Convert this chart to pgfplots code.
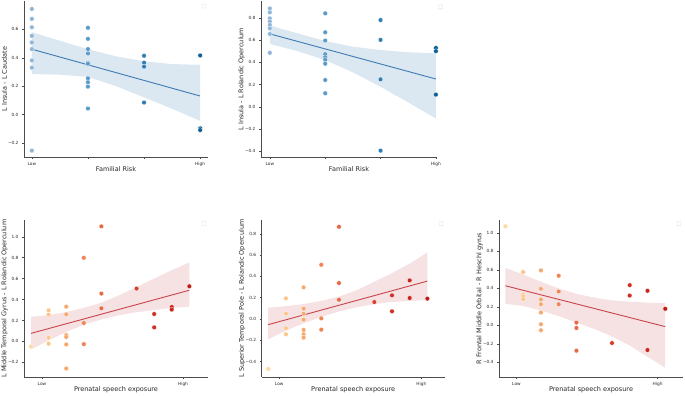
\documentclass[border=0pt]{standalone}
\usepackage{pgfplots}
\pgfplotsset{compat=1.18}
\usepackage{fontspec}
\setmainfont{DejaVu Sans}
\definecolor{tb0}{HTML}{8FB6D8}
\definecolor{tb1}{HTML}{5A9BC8}
\definecolor{tb2}{HTML}{2E7EB6}
\definecolor{tb3}{HTML}{0F5F95}
\definecolor{tline}{HTML}{3F7BB3}
\definecolor{tband}{HTML}{DBE7F1}
\definecolor{o0}{HTML}{FCD9A6}
\definecolor{o1}{HTML}{FBC68B}
\definecolor{o2}{HTML}{F5A96F}
\definecolor{o3}{HTML}{EE8556}
\definecolor{o4}{HTML}{E66A46}
\definecolor{o6}{HTML}{D8402E}
\definecolor{o7}{HTML}{CF3124}
\definecolor{o8}{HTML}{C8251D}
\definecolor{o9}{HTML}{BE1C17}
\definecolor{rline}{HTML}{C8454A}
\definecolor{rband}{HTML}{F6E1E3}
\newcommand{\ticksize}{\fontsize{4.3}{5}\selectfont}
\newcommand{\labsize}{\fontsize{6.5}{7.5}\selectfont}
\pgfplotsset{
  sb/.style={scale only axis, clip=false,
    axis x line*=bottom, axis y line*=left,
    axis line style={-, draw=black!70, line width=0.5pt},
    every tick/.style={draw=black!70, line width=0.4pt},
    tick align=outside, major tick length=2pt,
    tick label style={font=\ticksize, text=black!85},
    label style={font=\labsize, text=black!85},
    ylabel style={at={([xshift=-19.5pt]rel axis cs:0,0.5)}, anchor=center, rotate=0},
    xlabel style={at={([yshift=-12.5pt]rel axis cs:0.5,0)}, anchor=center},
  },
  pt/.style={only marks, mark=*, mark size=2.35pt, mark options={draw=white, line width=0.25pt, fill=#1}, color=#1},
}
\newcommand{\legbox}[2]{\draw[black!15, line width=0.4pt, rounded corners=0.4pt, fill=white] ([xshift=-2pt,yshift=-2pt]rel axis cs:#1,#2) rectangle ([xshift=2pt,yshift=2pt]rel axis cs:#1,#2);}
\begin{document}
\begin{tikzpicture}
\useasboundingbox (0pt,0pt) rectangle (685pt,396pt);

% ---------------- Plot 1
\begin{axis}[sb, at={(24pt,239pt)}, anchor=south west, width=184pt, height=156pt,
  xmin=-0.14, xmax=3.14, ymin=-0.30, ymax=0.80,
  xtick={0,1,2,3}, xticklabels={Low,,,High},
  ytick={-0.2,0,0.2,0.4,0.6}, yticklabels={−0.2,0.0,0.2,0.4,0.6},
  xlabel={Familial Risk}, ylabel={L Insula - L Caudate}]
\addplot[fill=tband, draw=none] coordinates {(0,0.58)(0.5,0.52)(1,0.46)(1.5,0.41)(2,0.375)(2.5,0.355)(3,0.35)(3,-0.045)(2.5,0.04)(2,0.12)(1.5,0.20)(1,0.265)(0.5,0.28)(0,0.285)};
\addplot[tline, line width=0.9pt] coordinates {(0,0.46)(3,0.13)};
\addplot[pt=tb0] coordinates {(0,0.744)(0,0.674)(0,0.615)(0,0.554)(0,0.508)(0,0.461)(0,0.381)(0,0.330)(0,-0.255)};
\addplot[pt=tb1] coordinates {(1,0.611)(1,0.533)(1,0.461)(1,0.430)(1,0.365)(1,0.358)(1,0.255)(1,0.227)(1,0.196)(1,0.042)};
\addplot[pt=tb2] coordinates {(2,0.414)(2,0.365)(2,0.337)(2,0.084)};
\addplot[pt=tb3] coordinates {(3,0.416)(3,-0.098)(3,-0.110)};
\legbox{0.978}{0.968}
\end{axis}

% ---------------- Plot 2
\begin{axis}[sb, at={(261pt,239pt)}, anchor=south west, width=176pt, height=156pt,
  xmin=-0.16, xmax=3.02, ymin=-0.45, ymax=0.95,
  xtick={0,1,2,3}, xticklabels={Low,,,High},
  ytick={-0.4,-0.2,0,0.2,0.4,0.6,0.8}, yticklabels={−0.4,−0.2,0.0,0.2,0.4,0.6,0.8},
  xlabel={Familial Risk}, ylabel={L Insula - L Rolandic Operculum}]
\addplot[fill=tband, draw=none] coordinates {(0,0.73)(0.5,0.66)(1,0.59)(1.5,0.54)(2,0.51)(2.5,0.49)(3,0.48)(3,-0.105)(2.5,0.04)(2,0.18)(1.5,0.31)(1,0.42)(0.5,0.50)(0,0.565)};
\addplot[tline, line width=0.9pt] coordinates {(0,0.655)(3,0.25)};
\addplot[pt=tb0] coordinates {(0,0.883)(0,0.848)(0,0.794)(0,0.767)(0,0.735)(0,0.705)(0,0.654)(0,0.485)};
\addplot[pt=tb1] coordinates {(1,0.839)(1,0.669)(1,0.595)(1,0.473)(1,0.446)(1,0.422)(1,0.387)(1,0.241)(1,0.122)};
\addplot[pt=tb2] coordinates {(2,0.779)(2,0.601)(2,0.247)(2,-0.393)};
\addplot[pt=tb3] coordinates {(3,0.529)(3,0.500)(3,0.110)};
\legbox{1.02}{0.962}
\end{axis}

% ---------------- Plot 3
\begin{axis}[sb, at={(24pt,19pt)}, anchor=south west, width=184pt, height=157pt,
  xmin=-0.4, xmax=10.06, ymin=-0.34, ymax=1.16,
  xtick={0.62,8.64}, xticklabels={Low,High},
  ytick={-0.2,0,0.2,0.4,0.6,0.8,1.0}, yticklabels={−0.2,0.0,0.2,0.4,0.6,0.8,1.0},
  xlabel={Prenatal speech exposure}, ylabel={L Middle Temporal Gyrus - L Rolandic Operculum}]
\addplot[fill=rband, draw=none] coordinates {(0,0.236)(1,0.25)(2,0.28)(3,0.32)(4,0.37)(5,0.44)(6,0.52)(7,0.60)(8,0.68)(9,0.754)(9,0.332)(8,0.32)(7,0.30)(6,0.28)(5,0.25)(4,0.21)(3,0.16)(2,0.09)(1,0.01)(0,-0.077)};
\addplot[rline, line width=0.9pt] coordinates {(0,0.077)(9,0.489)};
\addplot[pt=o0] coordinates {(0,-0.048)};
\addplot[pt=o1] coordinates {(1,0.297)(1,0.256)(1,0.035)(1,-0.022)};
\addplot[pt=o2] coordinates {(2,0.332)(2,0.259)(2,0.061)(2,0.042)(2,-0.029)(2,-0.259)};
\addplot[pt=o3] coordinates {(3,0.799)(3,0.176)(3,-0.026)};
\addplot[pt=o4] coordinates {(4,1.099)(4,0.457)(4,0.316)};
\addplot[pt=o6] coordinates {(6,0.505)};
\addplot[pt=o7] coordinates {(7,0.262)(7,0.134)};
\addplot[pt=o8] coordinates {(8,0.329)(8,0.304)};
\addplot[pt=o9] coordinates {(9,0.527)};
\legbox{0.978}{0.978}
\end{axis}

% ---------------- Plot 4
\begin{axis}[sb, at={(261.7pt,19pt)}, anchor=south west, width=183pt, height=157pt,
  xmin=-0.37, xmax=9.98, ymin=-0.545, ymax=0.93,
  xtick={0.62,8.66}, xticklabels={Low,High},
  ytick={-0.4,-0.2,0,0.2,0.4,0.6,0.8}, yticklabels={−0.4,−0.2,0.0,0.2,0.4,0.6,0.8},
  xlabel={Prenatal speech exposure}, ylabel={L Superior Temporal Pole - L Rolandic Operculum}]
\addplot[fill=rband, draw=none] coordinates {(0,0.106)(1,0.12)(2,0.14)(3,0.17)(4,0.21)(5,0.27)(6,0.35)(7,0.43)(8,0.52)(9,0.625)(9,0.178)(8,0.17)(7,0.16)(6,0.14)(5,0.11)(4,0.07)(3,0.02)(2,-0.04)(1,-0.11)(0,-0.19)};
\addplot[rline, line width=0.9pt] coordinates {(0,-0.053)(9,0.356)};
\addplot[pt=o0] coordinates {(0,-0.469)};
\addplot[pt=o1] coordinates {(1,0.194)(1,0.05)(1,-0.0875)(1,-0.144)};
\addplot[pt=o2] coordinates {(2,0.297)(2,0.097)(2,0.05)(2,-0.006)(2,-0.103)(2,-0.144)(2,-0.175)};
\addplot[pt=o3] coordinates {(3,0.509)(3,0.006)(3,-0.1)};
\addplot[pt=o4] coordinates {(4,0.866)(4,0.3375)(4,0.181)};
\addplot[pt=o6] coordinates {(6,0.159)};
\addplot[pt=o7] coordinates {(7,0.222)(7,0.072)};
\addplot[pt=o8] coordinates {(8,0.3625)(8,0.197)};
\addplot[pt=o9] coordinates {(9,0.191)};
\legbox{0.98}{0.975}
\end{axis}

% ---------------- Plot 5
\begin{axis}[sb, at={(499pt,19pt)}, anchor=south west, width=184pt, height=157pt,
  xmin=-0.36, xmax=10.0, ymin=-0.56, ymax=1.14,
  xtick={0.62,8.57}, xticklabels={Low,High},
  ytick={-0.4,-0.2,0,0.2,0.4,0.6,0.8,1.0}, yticklabels={−0.4,−0.2,0.0,0.2,0.4,0.6,0.8,1.0},
  xlabel={Prenatal speech exposure}, ylabel={R Frontal Middle Orbital - R Heschl gyrus}]
\addplot[fill=rband, draw=none] coordinates {(0,0.62)(1,0.55)(2,0.47)(3,0.40)(4,0.34)(5,0.30)(6,0.27)(7,0.255)(8,0.245)(9,0.239)(9,-0.46)(8,-0.34)(7,-0.22)(6,-0.12)(5,-0.04)(4,0.03)(3,0.10)(2,0.16)(1,0.21)(0,0.232)};
\addplot[rline, line width=0.9pt] coordinates {(0,0.428)(9,-0.0145)};
\addplot[pt=o0] coordinates {(0,1.072)};
\addplot[pt=o1] coordinates {(1,0.576)(1,0.333)(1,0.312)(1,0.283)};
\addplot[pt=o2] coordinates {(2,0.594)(2,0.395)(2,0.279)(2,0.228)(2,0.138)(2,0.011)(2,-0.054)};
\addplot[pt=o3] coordinates {(3,0.536)(3,0.366)(3,0.228)};
\addplot[pt=o4] coordinates {(4,0.029)(4,-0.029)(4,-0.275)};
\addplot[pt=o6] coordinates {(6,-0.192)};
\addplot[pt=o7] coordinates {(7,0.435)(7,0.322)};
\addplot[pt=o8] coordinates {(8,0.373)(8,-0.268)};
\addplot[pt=o9] coordinates {(9,0.178)};
\legbox{0.978}{0.975}
\end{axis}
\end{tikzpicture}
\end{document}
